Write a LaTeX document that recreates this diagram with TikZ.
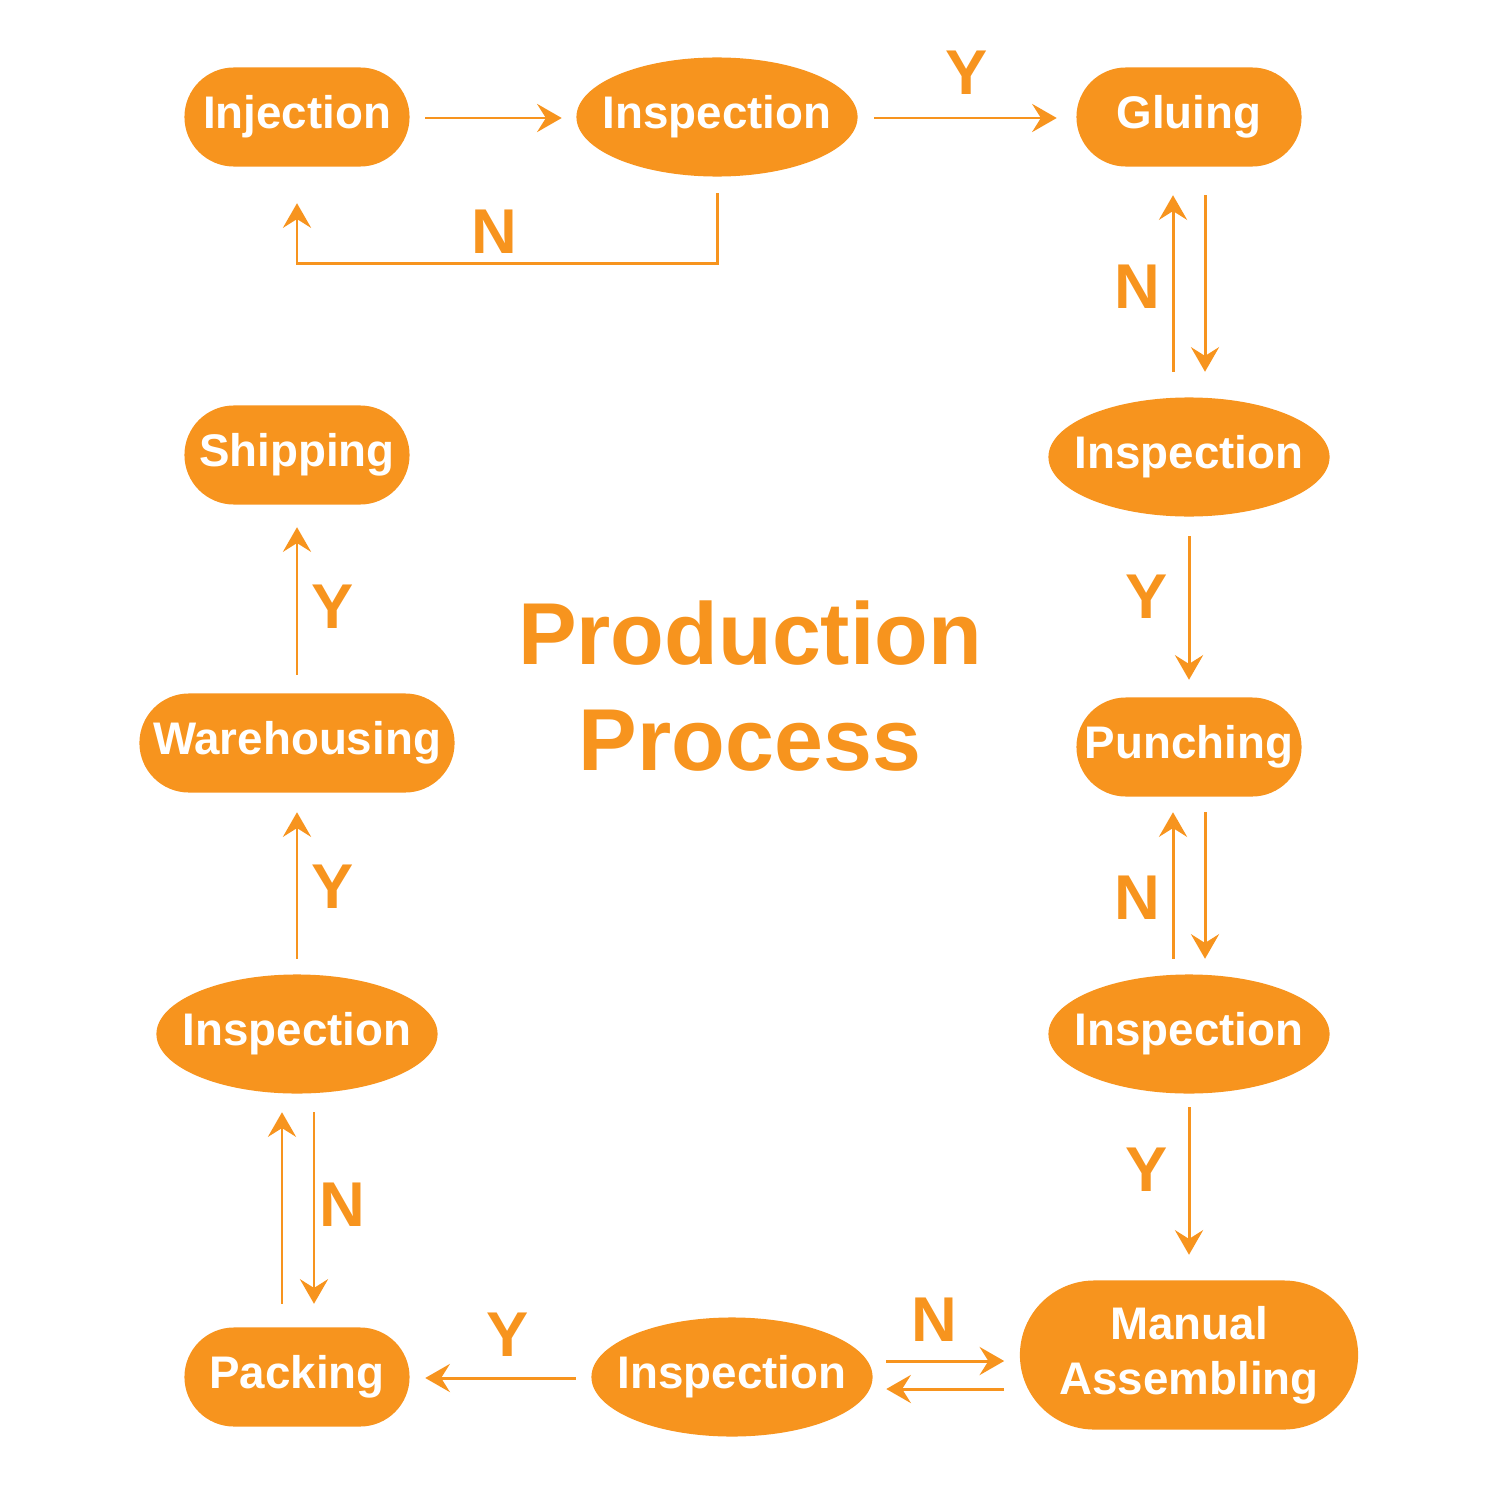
\documentclass[tikz,border=0pt]{standalone}
\usepackage{fontspec}
\setmainfont{Liberation Sans}
\usetikzlibrary{arrows.meta,shapes.geometric,calc}
\definecolor{org}{RGB}{247,148,30}
\tikzset{
  nodefont/.style={text=white, font=\fontsize{13}{15.6}\selectfont\bfseries},
  stad/.style={fill=org, draw=none, rounded corners=0.495cm, minimum width=2.25cm, minimum height=0.99cm, inner sep=0pt,
    nodefont, align=center},
  ell/.style={ellipse, fill=org, draw=none, minimum width=2.81cm, minimum height=1.19cm, inner sep=0pt,
    label={[nodefont, inner sep=0pt]center:#1}},
  arr/.style={draw=org, line width=0.85pt, -{Stealth[length=7pt, width=8pt, inset=2.5pt]}},
  lab/.style={text=org, font=\fontsize{18}{20}\selectfont\bfseries, inner sep=0pt},
}
\begin{document}
\begin{tikzpicture}[x=0.01cm, y=-0.01cm]
\useasboundingbox (0,0) rectangle (1500,1500);
% nodes
\node[stad] (inj) at (297,117) {Injection};
\node[ell=Inspection] (i1) at (717,117) {};
\node[stad] (glu) at (1189,117) {Gluing};
\node[ell=Inspection] (i2) at (1189,457) {};
\node[stad] (pun) at (1189,747) {Punching};
\node[ell=Inspection] (i3) at (1189,1034) {};
\node[stad, minimum width=3.38cm, minimum height=1.49cm, rounded corners=0.745cm] (man) at (1189,1355) {Manual\\Assembling};
\node[ell=Inspection] (i4) at (732,1377) {};
\node[stad] (pac) at (297,1377) {Packing};
\node[ell=Inspection] (i5) at (297,1034) {};
\node[stad, minimum width=3.15cm] (war) at (297,743) {Warehousing};
\node[stad] (shi) at (297,455) {Shipping};
\node[text=org, font=\fontsize{25}{30}\selectfont\bfseries, align=center] (title) at (750,686) {Production\\Process};
% connectors
\draw[arr] ($(inj.east)+(15,1)$) -- ($(i1.west)+(-14,1)$);
\draw[arr] ($(i1.east)+(16,1)$) -- ($(glu.west)+(-19,1)$);
\node[lab] (y1) at (967,73) {Y};
\draw[arr] ($(i1.south)+(0,16)$) |- ($(inj.south)+(0,96)$) -- ($(inj.south)+(0,36)$);
\node[lab] (n1) at (494,232) {N};
\draw[arr] ($(i2.north)+(-16,-25)$) -- ($(glu.south)+(-16,28)$);
\draw[arr] ($(glu.south)+(16,28)$) -- ($(i2.north)+(16,-25)$);
\node[lab] (n2) at (1137,287) {N};
\draw[arr] ($(i2.south)+(0,19)$) -- ($(pun.north)+(0,-17)$);
\node[lab] (y2) at (1147,597) {Y};
\draw[arr] ($(i3.north)+(-16,-15)$) -- ($(pun.south)+(-16,15)$);
\draw[arr] ($(pun.south)+(16,15)$) -- ($(i3.north)+(16,-15)$);
\node[lab] (n3) at (1137,898) {N};
\draw[arr] ($(i3.south)+(0,13)$) -- ($(man.north)+(0,-25)$);
\node[lab] (y3) at (1147,1170) {Y};
\draw[arr] ($(i4.east)+(13,-16)$) -- ($(man.west)+(-15,6)$);
\draw[arr] ($(man.west)+(-15,34)$) -- ($(i4.east)+(13,12)$);
\node[lab] (n4) at (934,1320) {N};
\draw[arr] ($(i4.west)+(-15,1)$) -- ($(pac.east)+(15,1)$);
\node[lab] (y4) at (508,1335) {Y};
\draw[arr] ($(pac.north)+(-15,-23)$) -- ($(i5.south)+(-15,18)$);
\draw[arr] ($(i5.south)+(17,18)$) -- ($(pac.north)+(17,-23)$);
\node[lab] (n5) at (342,1205) {N};
\draw[arr] ($(i5.north)+(0,-15)$) -- ($(war.south)+(0,19)$);
\node[lab] (y5) at (333,887) {Y};
\draw[arr] ($(war.north)+(0,-18)$) -- ($(shi.south)+(0,22)$);
\node[lab] (y6) at (333,607) {Y};
\end{tikzpicture}
\end{document}
